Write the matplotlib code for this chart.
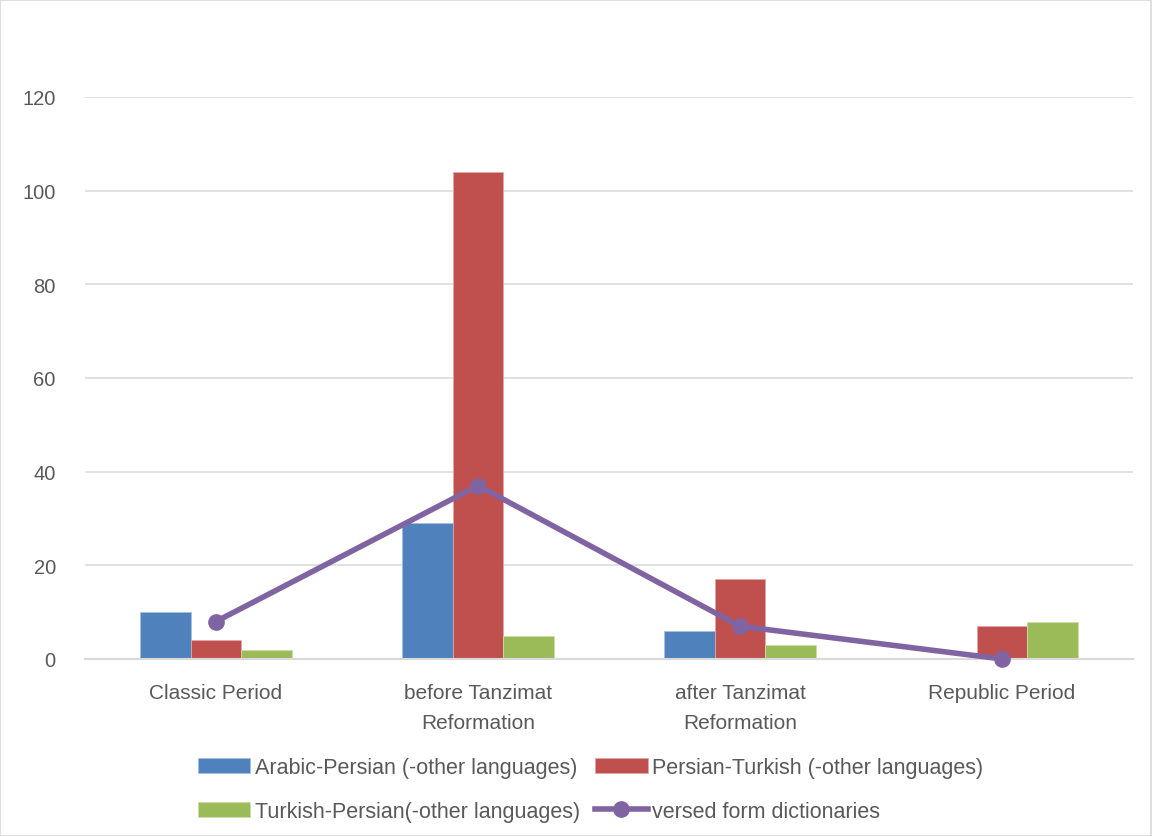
import numpy as np
import matplotlib.pyplot as plt
from matplotlib.patches import Rectangle

categories = ['Classic Period', 'before Tanzimat\nReformation', 'after Tanzimat\nReformation', 'Republic Period']
arabic_persian = [10, 29, 6, 0]
persian_turkish = [4, 104, 17, 7]
turkish_persian = [2, 5, 3, 8]
versed_form = [8, 37, 7, 0]

plt.rcParams['font.family'] = ['Liberation Sans', 'DejaVu Sans']
text_color = '#595959'

fig = plt.figure(figsize=(11.53, 8.37), dpi=100)
ax = fig.add_axes([0.0737, 0.2115, 0.909, 0.6715])

x = np.arange(len(categories))
w = 0.193
b1 = ax.bar(x - w, arabic_persian, w, color='#4F81BD', edgecolor='#A7C0DE', linewidth=0.6, label='Arabic-Persian (-other languages)', zorder=2)
b2 = ax.bar(x, persian_turkish, w, color='#C0504D', edgecolor='#E0A8A6', linewidth=0.6, label='Persian-Turkish (-other languages)', zorder=2)
b3 = ax.bar(x + w, turkish_persian, w, color='#9BBB59', edgecolor='#CDDDAC', linewidth=0.6, label='Turkish-Persian(-other languages)', zorder=2)
ln, = ax.plot(x, versed_form, color='#8064A2', linewidth=4, marker='o', markersize=11, label='versed form dictionaries', zorder=3, clip_on=False)

ax.set_xlim(-0.5, len(categories) - 0.5)
ax.set_ylim(0, 120)
ax.set_yticks(range(0, 121, 20))
ax.yaxis.grid(True, color='#D9D9D9', linewidth=1.1, zorder=0)
ax.set_axisbelow(True)
for s in ['top', 'right', 'left']:
    ax.spines[s].set_visible(False)
ax.spines['bottom'].set_color('#D9D9D9')
ax.spines['bottom'].set_linewidth(1.5)
ax.tick_params(axis='both', length=0, labelsize=15, colors=text_color)
ax.tick_params(axis='y', labelsize=14.5, pad=21)
ax.set_xticks(x)
ax.set_xticklabels(categories, linespacing=1.75)
ax.tick_params(axis='x', pad=17)

fig.legend([b1, b3, b2, ln], [b1.get_label(), b3.get_label(), b2.get_label(), ln.get_label()],
           ncol=2, loc='lower center', bbox_to_anchor=(0.512, 0.0), frameon=False,
           fontsize=15.5, labelcolor=text_color, handlelength=2.45, handletextpad=0.2,
           columnspacing=0.7, labelspacing=1.05, borderaxespad=0.25)

fig.patches.append(Rectangle((0.0, 0.0), 0.998, 0.999, transform=fig.transFigure,
                             fill=False, edgecolor='#D9D9D9', linewidth=1.2))

fig.savefig('out.png', dpi=100)
